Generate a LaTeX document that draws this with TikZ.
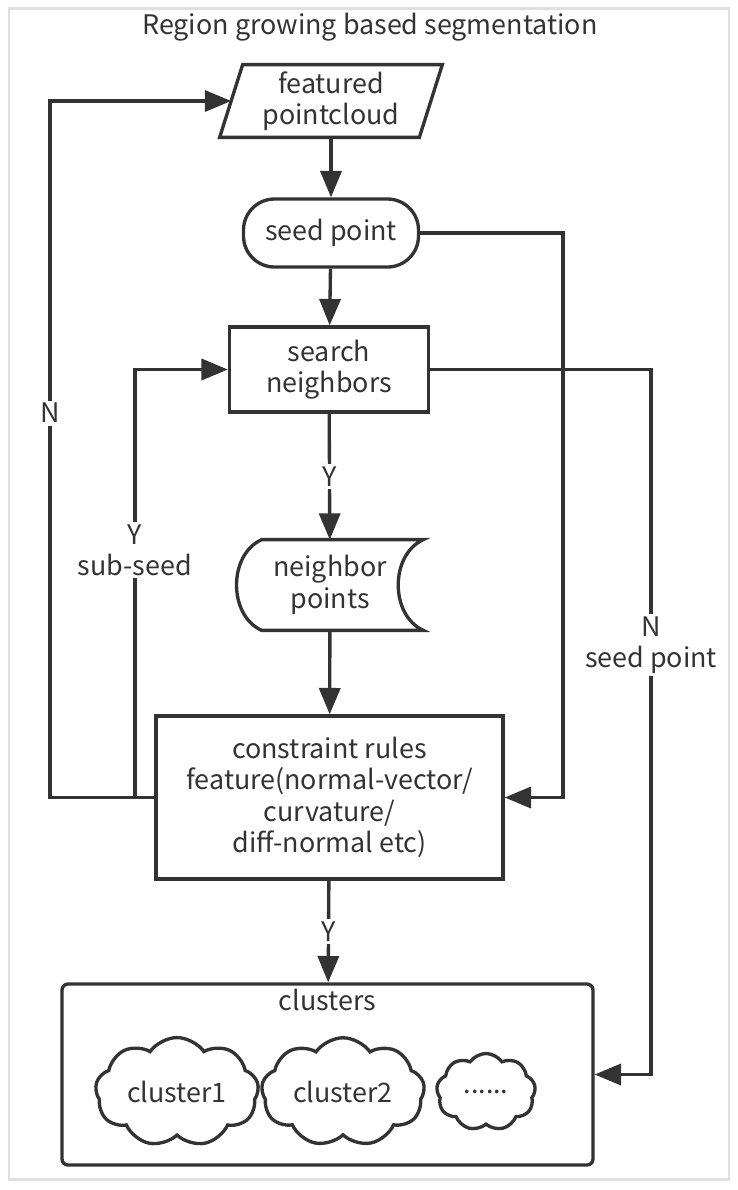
\documentclass[tikz,border=0pt]{standalone}
\usepackage{fontspec}
\setmainfont{Noto Sans CJK SC}
\usetikzlibrary{arrows.meta,shapes.symbols}
\definecolor{ink}{HTML}{333333}

\tikzset{
	box/.style={draw=ink, line width=1.9pt, text=ink, align=center},
	flow/.style={draw=ink, line width=1.9pt, -{Triangle[length=15pt,width=12pt]}},
	lbl/.style={fill=white, text=ink, align=center, inner sep=1.5pt},
	blob/.style={box, cloud, cloud puffs=9, cloud puff arc=110}
}

\begin{document}
\begin{tikzpicture}[font=\fontsize{15.3}{17.8}\selectfont]
	\useasboundingbox (0,0) rectangle (14.76,-23.8);
	\draw [gray!25, line width=1.7pt] (0.18,-0.16) rectangle (14.58,-23.58);
	\node (title) [text=ink] at (7.4,-0.54) {Region growing based segmentation};
	
	% flow boxes
	\node (feat) [align=center, text=ink, minimum width=3.98cm, minimum height=1.44cm] at (6.62,-2.02) {featured\\pointcloud};
	\draw [ink, line width=1.9pt] ([xshift=-0.23cm]feat.south west) -- ([xshift=0.23cm]feat.north west) -- ([xshift=0.23cm]feat.north east) -- ([xshift=-0.23cm]feat.south east) -- cycle;
	\node (seed) [box, rounded corners=0.62cm, minimum width=3.5cm, minimum height=1.36cm] at (6.62,-4.66) {seed point};
	\node (search) [box, minimum width=3.98cm, minimum height=1.7cm] at (6.58,-7.39) {search\\neighbors};
	\node (nbr) [align=center, text=ink, minimum width=3.72cm, minimum height=1.8cm] at (6.6,-11.7) {neighbor\\points};
	\draw [ink, line width=1.9pt] ([xshift=0.5cm]nbr.north west) -- (nbr.north east) .. controls +(-0.67,-0.3) and +(-0.67,0.3) .. (nbr.south east) -- ([xshift=0.5cm]nbr.south west) .. controls +(-0.67,0.3) and +(-0.67,-0.3) .. cycle;
	\node (rules) [box, minimum width=6.94cm, minimum height=3.26cm] at (6.59,-15.95) {constraint rules\\feature(normal-vector/\\curvature/\\diff-normal etc)};
	\node (clusters) [box, rounded corners=0.12cm, minimum width=10.62cm, minimum height=3.62cm, label={[text=ink, anchor=center, yshift=-0.36cm]north:clusters}] at (6.55,-21.49) {};
	\node (cl1) [blob, minimum width=2.82cm, minimum height=1.54cm, aspect=1.83] at (3.54,-21.84) {cluster1};
	\node (cl2) [blob, minimum width=2.84cm, minimum height=1.54cm, aspect=1.84] at (6.86,-21.84) {cluster2};
	\node (cl3) [blob, minimum width=1.98cm, minimum height=1.54cm, aspect=1.29] at (9.72,-21.84) {......};
	
	% corners of the loops
	\coordinate (c1) at (11.26,-15.95);
	\coordinate (c2) at (13.02,-21.49);
	\coordinate (c3) at (1.0,-15.95);
	\coordinate (c4) at (2.7,-15.95);
	
	% connectors
	\draw [flow] (feat) -- (seed);
	\draw [flow] (seed) -- (search);
	\draw [flow] (search) -- node[lbl] {Y} (nbr);
	\draw [flow] (nbr) -- (rules);
	\draw [flow] (rules) -- node[lbl] {Y} (clusters);
	\draw [flow] (seed.east) -| (c1) -- (rules.east);
	\draw [flow] (search.east) -| (c2) -- (clusters.east);
	\draw [flow] (rules.west) -| (c3) |- (feat.west);
	\draw [flow] (c4) |- (search.west);
	\node (lN) [lbl] at (1.0,-8.26) {N};
	\node (lsub) [lbl] at (2.7,-11.0) {Y\\sub-seed};
	\node (lseed) [lbl] at (13.02,-12.9) {N\\seed point};
\end{tikzpicture}
\end{document}
